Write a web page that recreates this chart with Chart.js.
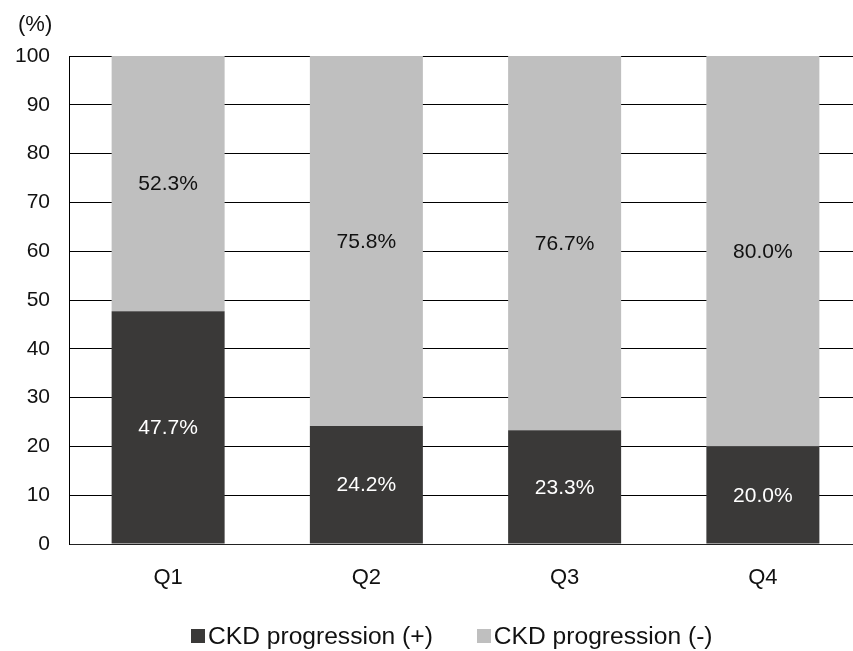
<!DOCTYPE html>
<html>
<head>
<meta charset="utf-8">
<script src="https://cdn.jsdelivr.net/npm/chart.js@4.4.1/dist/chart.umd.min.js"></script>
<style>
  html, body { margin: 0; padding: 0; background: #fff; overflow: hidden; width: 853px; height: 651px; }
  #wrap { position: relative; width: 862px; height: 651px; }
  #legend { position: absolute; left: 191px; top: 622px; display: flex; font-family: "Liberation Sans", Arial, sans-serif; font-size: 24.6px; color: #111; line-height: 27px; }
  .item { display: flex; align-items: center; }
  .item + .item { margin-left: 44px; }
  .box { width: 14px; height: 14px; margin-right: 3px; }
</style>
</head>
<body>
<div id="wrap">
  <canvas id="c" width="862" height="651"></canvas>
  <div id="legend"></div>
</div>
<script>
const categories = ['Q1', 'Q2', 'Q3', 'Q4'];
const seriesNames = ['CKD progression (+)', 'CKD progression (-)'];
const progressionPos = [47.7, 24.2, 23.3, 20.0];
const progressionNeg = [52.3, 75.8, 76.7, 80.0];
const yTicks = [0, 10, 20, 30, 40, 50, 60, 70, 80, 90, 100];

const colors = ['#3a3938', '#bfbfbf'];
const labelColors = ['#ffffff', '#111111'];
const FONT = '"Liberation Sans", Arial, sans-serif';

// Percent labels centred in each stacked segment
const segmentLabels = {
  id: 'segmentLabels',
  afterDatasetsDraw(chart) {
    const ctx = chart.ctx;
    ctx.save();
    ctx.font = '21px ' + FONT;
    ctx.textAlign = 'center';
    ctx.textBaseline = 'middle';
    chart.data.datasets.forEach((ds, i) => {
      const meta = chart.getDatasetMeta(i);
      meta.data.forEach((bar, j) => {
        const { x, y, base } = bar.getProps(['x', 'y', 'base'], true);
        ctx.fillStyle = labelColors[i];
        ctx.fillText(ds.data[j].toFixed(1) + '%', x, (y + base) / 2 + 1);
      });
    });
    ctx.restore();
  }
};

// Unit caption above the value axis
const unitCaption = {
  id: 'unitCaption',
  afterDraw(chart) {
    const ctx = chart.ctx;
    const area = chart.chartArea;
    ctx.save();
    ctx.font = '22px ' + FONT;
    ctx.fillStyle = '#111';
    ctx.textAlign = 'left';
    ctx.textBaseline = 'middle';
    ctx.fillText('(%)', area.left - 51, area.top - 31);
    ctx.restore();
  }
};

const chart = new Chart(document.getElementById('c'), {
  type: 'bar',
  data: {
    labels: categories,
    datasets: [
      { label: seriesNames[0], data: progressionPos, backgroundColor: colors[0] },
      { label: seriesNames[1], data: progressionNeg, backgroundColor: colors[1] }
    ]
  },
  options: {
    responsive: false,
    animation: false,
    devicePixelRatio: 1,
    layout: { padding: { top: 56, left: 0, right: 0, bottom: 0 } },
    datasets: { bar: { barPercentage: 0.57, categoryPercentage: 1.0 } },
    plugins: {
      legend: { display: false },
      tooltip: { enabled: false }
    },
    scales: {
      x: {
        stacked: true,
        grid: { display: false, drawTicks: false },
        border: { display: true, color: '#222', width: 1 },
        ticks: { color: '#111', font: { family: FONT, size: 22 }, padding: 21 },
        afterFit(scale) { scale.height = 107; }
      },
      y: {
        stacked: true,
        min: 0,
        max: 100,
        afterBuildTicks(scale) { scale.ticks = yTicks.map(v => ({ value: v })); },
        grid: { color: '#000', lineWidth: 1, drawTicks: false },
        border: { display: true, color: '#000', width: 1 },
        ticks: { color: '#111', font: { family: FONT, size: 21 }, padding: 19 },
        afterFit(scale) { scale.width = 69; }
      }
    }
  },
  plugins: [segmentLabels, unitCaption]
});

// Legend built from the dataset names and colours
const legendEl = document.getElementById('legend');
seriesNames.forEach((name, i) => {
  const item = document.createElement('div');
  item.className = 'item';
  const box = document.createElement('span');
  box.className = 'box';
  box.style.background = colors[i];
  const txt = document.createElement('span');
  txt.textContent = name;
  item.appendChild(box);
  item.appendChild(txt);
  legendEl.appendChild(item);
});
</script>
</body>
</html>
